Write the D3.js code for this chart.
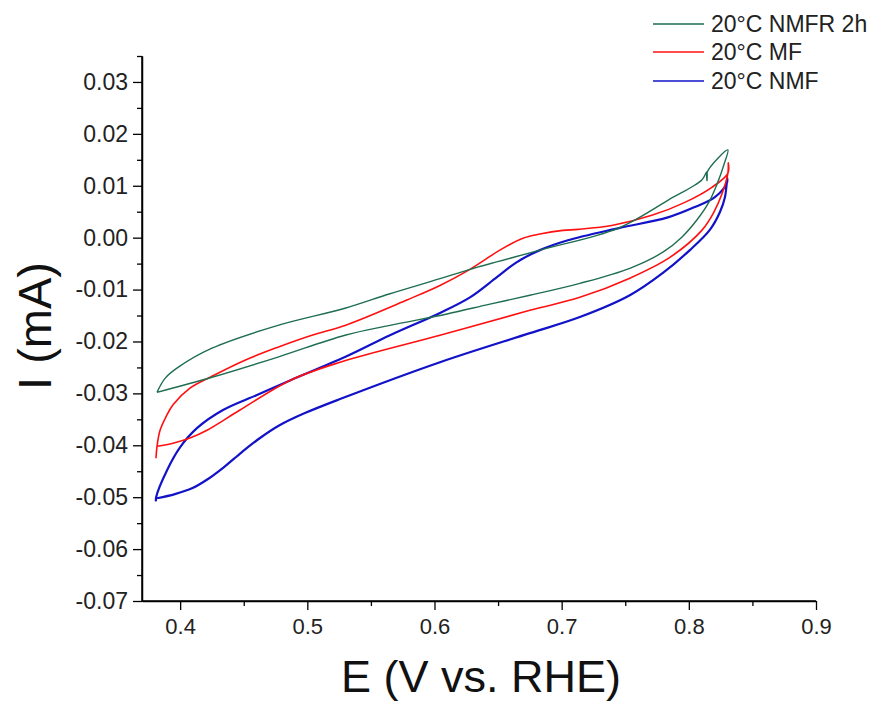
<!DOCTYPE html>
<html>
<head>
<meta charset="utf-8">
<script src="https://cdn.jsdelivr.net/npm/d3@7"></script>
<style>
  html, body { margin: 0; padding: 0; background: #fff; }
  svg { display: block; font-family: Arial, "Liberation Sans", sans-serif; }
</style>
</head>
<body>
<svg id="chart" width="869" height="702"></svg>
<script>
// ---- Data ----
const seriesNames = ["20°C NMFR 2h", "20°C MF", "20°C NMF"];
const seriesColors = ["#1f6e50", "#ff1010", "#1212c8"];

// 20°C NMFR 2h : anodic branch then cathodic branch
const nmfrE = [0.3818,0.3881,0.3983,0.425,0.4769,0.5296,0.565,0.6043,0.6279,0.6829,0.7442,0.7835,0.8102,0.8142,0.8143,0.8146,0.8307,
               0.8275,0.8228,0.8157,0.8063,0.7945,0.7796,0.7536,0.7143,0.675,0.6436,0.6098,0.565,0.5296,0.4769,0.425,0.3818];
const nmfrI = [-0.0298,-0.0271,-0.0250,-0.0213,-0.0169,-0.0136,-0.0108,-0.0079,-0.0061,-0.0024,0.0018,0.0072,0.0111,0.0127,0.0110,0.0127,0.0169,
               0.0140,0.0107,0.0068,0.0034,0.0001,-0.0028,-0.0059,-0.0088,-0.0111,-0.0128,-0.0147,-0.0169,-0.0188,-0.0230,-0.0269,-0.0298];

// 20°C MF
const mfE = [0.3810,0.3818,0.3842,0.3889,0.3944,0.4077,0.4250,0.4510,0.4769,0.5036,0.5296,0.5783,0.6043,0.6279,0.6514,0.6695,0.6829,0.7010,0.7128,0.7403,0.7709,0.7969,0.8181,0.8307,0.8310,
             0.8307,0.8260,0.8197,0.8102,0.7851,0.7536,0.7143,0.6750,0.6043,0.5257,0.4864,0.4470,0.4211,0.4077,0.3944,0.3818];
const mfI = [-0.0425,-0.0402,-0.0371,-0.0345,-0.0322,-0.0290,-0.0267,-0.0236,-0.0211,-0.0188,-0.0169,-0.0120,-0.0092,-0.0061,-0.0024,-0.0001,0.0007,0.0014,0.0016,0.0024,0.0043,0.0068,0.0097,0.0124,0.0144,
             0.0124,0.0084,0.0049,0.0014,-0.0038,-0.0078,-0.0115,-0.0140,-0.0188,-0.0240,-0.0275,-0.0332,-0.0371,-0.0386,-0.0396,-0.0402];

// 20°C NMF
const nmfE = [0.3810,0.3811,0.3897,0.3999,0.4132,0.4337,0.4604,0.4864,0.5296,0.5650,0.6043,0.6279,0.6491,0.6648,0.6829,0.7049,0.7442,0.7835,0.8047,0.8205,0.8299,0.8302,
              0.8284,0.8244,0.8165,0.8008,0.7796,0.7536,0.7143,0.6750,0.6043,0.5257,0.4981,0.4785,0.4628,0.4486,0.4345,0.4219,0.4093,0.3959,0.3818];
const nmfI = [-0.0508,-0.0500,-0.0448,-0.0404,-0.0367,-0.0332,-0.0303,-0.0275,-0.0230,-0.0188,-0.0145,-0.0115,-0.0076,-0.0047,-0.0024,-0.0005,0.0018,0.0039,0.0059,0.0078,0.0105,0.0115,
              0.0078,0.0049,0.0015,-0.0024,-0.0068,-0.0111,-0.0153,-0.0184,-0.0240,-0.0311,-0.0338,-0.0361,-0.0386,-0.0413,-0.0442,-0.0465,-0.0483,-0.0494,-0.0502];

const xTicks = [0.4, 0.5, 0.6, 0.7, 0.8, 0.9];
const xMinorTicks = [0.45, 0.55, 0.65, 0.75, 0.85];
const yTicks = [0.03, 0.02, 0.01, 0.00, -0.01, -0.02, -0.03, -0.04, -0.05, -0.06, -0.07];
const yMinorTicks = [0.035, 0.025, 0.015, 0.005, -0.005, -0.015, -0.025, -0.035, -0.045, -0.055, -0.065];
const xDomain = [0.37, 0.9];
const yDomain = [-0.07, 0.035];
const xTitle = "E (V vs. RHE)";
const yTitle = "I (mA)";

// ---- Chart ----
const svg = d3.select("#chart");
const mLeft = 142, mRight = 816, mTop = 56, mBottom = 601;
const x = d3.scaleLinear().domain(xDomain).range([mLeft, mRight]);
const y = d3.scaleLinear().domain(yDomain).range([mBottom, mTop]);

const fmtX = v => v.toFixed(1);
const fmtY = v => (Math.abs(v) < 1e-9 ? 0 : v).toFixed(2);

// minor ticks
svg.append("g").attr("transform", `translate(0,${mBottom})`)
  .call(d3.axisBottom(x).tickValues(xMinorTicks).tickSize(5).tickFormat(""))
  .call(g => g.select(".domain").remove())
  .call(g => g.selectAll("line").attr("stroke", "#000").attr("stroke-width", 1.3));
svg.append("g").attr("transform", `translate(${mLeft},0)`)
  .call(d3.axisLeft(y).tickValues(yMinorTicks).tickSize(5).tickFormat(""))
  .call(g => g.select(".domain").remove())
  .call(g => g.selectAll("line").attr("stroke", "#000").attr("stroke-width", 1.3));

// major axes
const xAxis = svg.append("g").attr("transform", `translate(0,${mBottom})`)
  .call(d3.axisBottom(x).tickValues(xTicks).tickSize(9).tickSizeOuter(0).tickPadding(8).tickFormat(fmtX));
const yAxis = svg.append("g").attr("transform", `translate(${mLeft},0)`)
  .call(d3.axisLeft(y).tickValues(yTicks).tickSize(9).tickSizeOuter(0).tickPadding(5).tickFormat(fmtY));

[xAxis, yAxis].forEach(g => {
  g.select(".domain").attr("stroke", "#000").attr("stroke-width", 1.5);
  g.selectAll(".tick line").attr("stroke", "#000").attr("stroke-width", 1.3);
  g.selectAll(".tick text").attr("fill", "#222")
    .style("font-family", "Arial, 'Liberation Sans', sans-serif");
});
xAxis.selectAll(".tick text").style("font-size", "22px");
yAxis.selectAll(".tick text").style("font-size", "23px");
svg.append("line").attr("x1", mLeft).attr("x2", mLeft).attr("y1", mTop).attr("y2", mBottom)
  .attr("stroke", "#000").attr("stroke-width", 1.5);
svg.append("line").attr("x1", mLeft).attr("x2", mRight).attr("y1", mBottom).attr("y2", mBottom)
  .attr("stroke", "#000").attr("stroke-width", 1.5);

// curves
const line = d3.line().x(d => x(d[0])).y(d => y(d[1])).curve(d3.curveCatmullRom.alpha(0.5));
const series = [
  { E: nmfrE, I: nmfrI, w: 1.4 },
  { E: mfE, I: mfI, w: 1.6 },
  { E: nmfE, I: nmfI, w: 2.2 }
];
[2, 1, 0].forEach(k => {
  const s = series[k];
  const pts = s.E.map((e, i) => [e, s.I[i]]);
  svg.append("path").datum(pts)
    .attr("d", line)
    .attr("fill", "none")
    .attr("stroke", seriesColors[k])
    .attr("stroke-width", s.w)
    .attr("stroke-linejoin", "round");
});

// axis titles
svg.append("text").attr("x", 481).attr("y", 692).attr("text-anchor", "middle")
  .style("font-size", "45px").attr("fill", "#111").text(xTitle);
svg.append("text").attr("transform", "translate(51,326) rotate(-90)").attr("text-anchor", "middle")
  .style("font-size", "47px").attr("fill", "#111").text(yTitle);

// legend
const legY = [24, 52, 81];
seriesNames.forEach((name, i) => {
  svg.append("line").attr("x1", 653).attr("x2", 704).attr("y1", legY[i]).attr("y2", legY[i])
    .attr("stroke", seriesColors[i]).attr("stroke-width", 1.6);
  svg.append("text").attr("x", 711).attr("y", legY[i] + 8)
    .style("font-size", "23px").attr("fill", "#222").text(name);
});
</script>
</body>
</html>
